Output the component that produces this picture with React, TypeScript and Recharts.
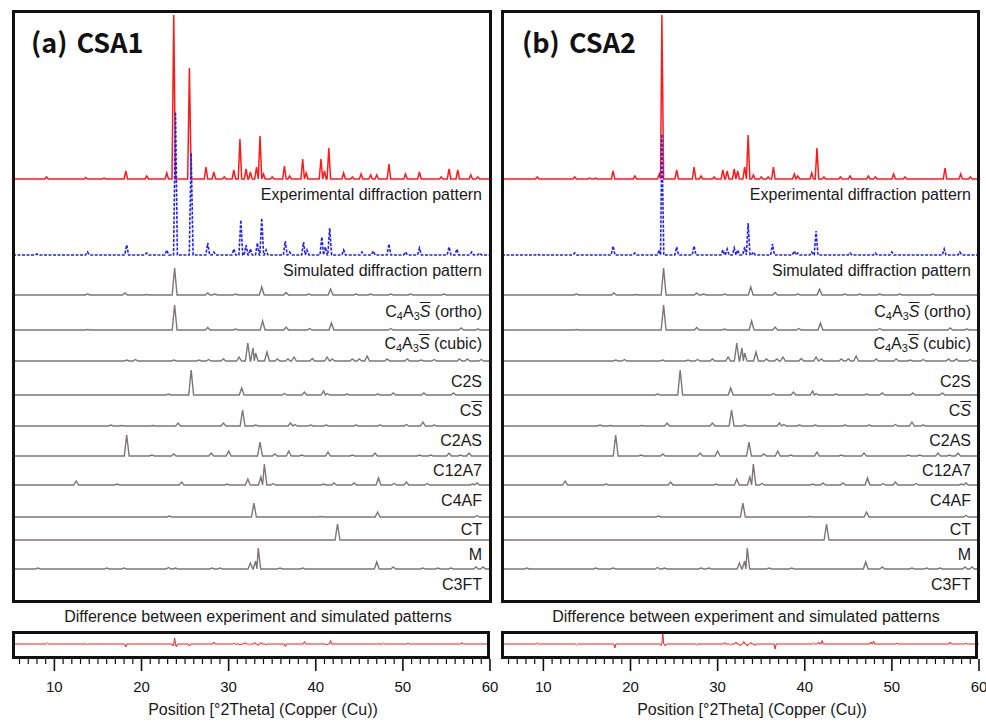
import React from "react";
import { LineChart, Line, XAxis, YAxis } from "recharts";

type Peak = [number, number]; // [position °2θ, intensity]

const X_MIN = 5.25;
const X_MAX = 60;
const MAJOR_TICKS = [10, 20, 30, 40, 50, 60];
const X_TICKS = Array.from({ length: 55 }, (_, i) => 6 + i);

// measured patterns
const CSA1_EXP: Peak[] = [
  [9.1, 2], [13.6, 1.5], [15.7, 1], [18.2, 8], [20.6, 3], [22.9, 6], [23.7, 164], [25.5, 111],
  [27.4, 12], [28.3, 7], [29.5, 2], [30.6, 9], [31.3, 40], [32.0, 10], [32.5, 7], [33.2, 12],
  [33.6, 43], [34.0, 5], [35.0, 2], [36.4, 13], [37.0, 3], [38.5, 20], [38.9, 6], [40.6, 20],
  [41.0, 8], [41.5, 31], [43.2, 6], [44.2, 2], [45.2, 5], [46.3, 4], [47.0, 4], [48.4, 15],
  [50.3, 5], [51.9, 7], [54.4, 2], [55.3, 10], [56.3, 9], [57.8, 4], [58.6, 2],
];
const CSA1_SIM: Peak[] = [
  [8.0, 1], [13.8, 3], [18.3, 10], [20.6, 2], [22.9, 5], [23.9, 143], [25.7, 102], [27.6, 12],
  [28.3, 3], [30.6, 6], [31.4, 35], [32.0, 10], [32.5, 6], [33.3, 12], [33.8, 37], [34.3, 5],
  [36.5, 14], [37.0, 3], [38.6, 13], [39.0, 5], [40.7, 18], [41.1, 8], [41.6, 27], [43.2, 5],
  [45.3, 3], [46.6, 4], [48.4, 11], [50.3, 3], [51.9, 7], [55.3, 8], [56.2, 6], [57.9, 3], [58.8, 2],
];
const CSA1_DIFF: Peak[] = [
  [9.2, 1], [13.8, -0.5], [18.2, -3], [23.6, -2], [23.8, 6], [24.0, -3], [25.5, -2], [28.3, 2],
  [30.6, 1], [31.3, -1], [31.9, 1.5], [32.4, -1], [33.0, 1.5], [33.4, -1.5], [33.7, 1.5], [34.3, -1],
  [36.5, -2.5], [38.7, 2.5], [41.3, -1], [41.7, 3.5], [47.8, 1], [50.6, 1], [56.8, 1.5],
];

const CSA2_EXP: Peak[] = [
  [9.3, 2], [13.6, 2], [15.3, 1], [16.0, 1], [18.0, 8], [20.5, 3], [23.3, 5], [23.6, 164],
  [25.3, 9], [27.3, 12], [28.1, 3], [29.6, 2], [30.6, 9], [31.1, 8], [31.9, 10], [32.3, 8],
  [33.1, 12], [33.5, 44], [34.1, 4], [35.0, 2], [35.8, 2], [36.4, 12], [38.8, 5], [39.2, 3],
  [40.8, 6], [41.4, 31], [42.2, 2], [44.1, 2], [45.2, 3], [47.3, 3], [48.1, 2], [50.2, 5],
  [51.5, 2], [56.1, 11], [57.9, 5], [59.0, 2],
];
const CSA2_SIM: Peak[] = [
  [9.3, 1], [13.6, 2], [18.0, 9], [20.5, 2], [23.3, 5], [23.6, 121], [25.3, 8], [27.3, 9],
  [30.6, 5], [31.1, 6], [31.9, 7], [32.3, 5], [33.1, 8], [33.5, 32], [34.1, 3], [36.3, 11],
  [38.8, 4], [39.2, 2], [40.8, 3], [41.3, 24], [45.2, 2], [48.1, 2], [50.0, 3], [56.0, 6], [57.8, 3],
];
const CSA2_DIFF: Peak[] = [
  [9.3, 1], [13.8, -1], [18.2, -4], [23.5, -1.5], [23.7, 11], [24.0, -2], [27.6, -1], [30.8, 1.5],
  [31.5, -1], [32.1, 2], [32.6, -1.5], [33.0, 2.5], [33.4, -2], [33.8, 1.5], [34.3, -1.5],
  [36.6, -5], [41.0, 1], [41.6, 2], [42.0, 3.5], [47.6, 2], [47.9, 3], [50.6, 1], [56.7, 2], [58.5, 1],
];

// reference phase patterns (identical for both cements)
const ORTHO: Peak[] = [
  [13.8, 1], [18.1, 2], [20.6, 0.5], [23.8, 27], [27.6, 2], [28.4, 1], [30.8, 1], [33.8, 8],
  [36.6, 2.5], [39.2, 1], [41.7, 6], [44.6, 1], [46.3, 1], [48.6, 1], [50.9, 1], [54.7, 1],
];
const CUBIC: Peak[] = [
  [13.8, 0.5], [23.8, 25], [27.6, 2.5], [30.8, 1], [33.9, 9], [36.6, 3], [39.3, 1.5], [41.8, 7],
  [48.6, 1.5], [56.7, 2], [58.6, 1],
];
const C2S: Peak[] = [
  [18.3, 1], [19.3, 1.5], [23.7, 1], [26.6, 1], [27.7, 1.5], [29.4, 2], [31.2, 4], [32.2, 18],
  [32.8, 13], [33.1, 8], [34.4, 9], [35.6, 2], [36.8, 2], [37.5, 4], [39.6, 2.5], [41.3, 4],
  [41.9, 2], [44.2, 2], [45.0, 2], [45.9, 5], [48.2, 2], [50.5, 2], [52.1, 1], [53.6, 1.5],
  [56.5, 2], [57.4, 2], [59.0, 1.5],
];
const CS: Peak[] = [
  [23.1, 1], [25.7, 25], [31.5, 7], [36.4, 1.5], [38.7, 3], [40.9, 4], [41.3, 1.5], [43.6, 1],
  [47.1, 1], [48.9, 2], [52.4, 2], [55.8, 2],
];
const C2AS: Peak[] = [
  [16.5, 1], [17.7, 0.5], [21.3, 0.5], [24.2, 3], [29.4, 3], [31.6, 16], [33.1, 1], [37.1, 3],
  [37.6, 1.5], [39.4, 1], [41.2, 1], [44.6, 1], [47.4, 1], [50.4, 1.5], [52.3, 4], [53.6, 1],
];
const C12A7: Peak[] = [
  [18.3, 21], [21.2, 1], [23.7, 2], [28.0, 3], [30.0, 5], [33.6, 14], [35.3, 2], [36.9, 5],
  [38.4, 1], [41.4, 4], [44.2, 1], [46.8, 3], [51.9, 1], [53.2, 1], [55.3, 3], [56.6, 1], [57.6, 3],
];
const C4AF: Peak[] = [
  [12.5, 4], [17.2, 1], [24.6, 3], [29.8, 1], [32.2, 6], [33.7, 8], [34.1, 21], [35.1, 1.5],
  [40.9, 1], [42.1, 2], [44.4, 2], [47.2, 7], [49.0, 1.5], [50.4, 3], [52.8, 1.5], [58.0, 1], [58.5, 2],
];
const CT: Peak[] = [[23.2, 1], [32.9, 14], [40.5, 0.5], [47.1, 5], [58.5, 1.5]];
const M: Peak[] = [[42.5, 16]];
const C3FT: Peak[] = [
  [8.1, 1], [16.0, 1], [18.0, 1], [23.1, 1.5], [23.9, 1], [28.1, 1], [29.0, 1], [32.5, 6],
  [33.1, 8], [33.4, 21], [35.9, 1], [38.5, 1], [47.0, 7], [48.9, 2], [52.3, 1], [54.0, 1],
  [55.5, 1], [58.4, 2], [59.2, 2],
];

const PHASES = [ORTHO, CUBIC, C2S, CS, C2AS, C12A7, C4AF, CT, M, C3FT];

// stacking: baseline of each trace in chart units, top to bottom
const TRACE_OFFSETS = [422, 346, 306, 271, 240, 206, 175, 145, 116, 84, 61, 32];
const LABEL_Y = [195, 271, 312, 344, 382, 411, 441, 471, 501, 530, 555, 585];

const RED = "#ff1a1a";
const BLUE = "#1f1fff";
const GRAY = "#7e7676";
const LABEL_FONT = '"Liberation Sans", Arial, sans-serif';
const TITLE_FONT = '"Noto Sans CJK KR", "Noto Sans", sans-serif';

const Sub = ({ children }: { children: React.ReactNode }) => (
  <span style={{ fontSize: 11, position: "relative", top: 3 }}>{children}</span>
);
const SBar = () => <span style={{ fontStyle: "italic", textDecoration: "overline" }}>S</span>;

const TRACE_LABELS: React.ReactNode[] = [
  "Experimental diffraction pattern",
  "Simulated diffraction pattern",
  <>C<Sub>4</Sub>A<Sub>3</Sub><SBar /> (ortho)</>,
  <>C<Sub>4</Sub>A<Sub>3</Sub><SBar /> (cubic)</>,
  "C2S",
  <>C<SBar /></>,
  "C2AS",
  "C12A7",
  "C4AF",
  "CT",
  "M",
  "C3FT",
];

// turn a peak list into a stick-profile polyline sitting on a baseline
function toProfile(peaks: Peak[], halfWidth: number, offset: number) {
  const pts = [{ x: X_MIN, y: offset }];
  peaks.forEach(([pos, h], i) => {
    const prev = i > 0 ? peaks[i - 1][0] : X_MIN;
    const next = i < peaks.length - 1 ? peaks[i + 1][0] : X_MAX;
    pts.push({ x: Math.max(pos - halfWidth, (prev + pos) / 2), y: offset });
    pts.push({ x: pos, y: offset + h });
    pts.push({ x: Math.min(pos + halfWidth, (pos + next) / 2), y: offset });
  });
  pts.push({ x: X_MAX, y: offset });
  return pts;
}

const renderTick = (props: any) => {
  const { x, y, payload } = props;
  const major = MAJOR_TICKS.includes(payload.value);
  return (
    <g>
      <line x1={x} x2={x} y1={y} y2={y + (major ? 12 : 5)} stroke="#111" strokeWidth={major ? 1.6 : 1.2} />
      {major && (
        <text x={x} y={y + 33} textAnchor="middle" fontSize={15} fontFamily={LABEL_FONT} fill="#111">
          {payload.value}
        </text>
      )}
    </g>
  );
};

const PANELS = [
  {
    title: "(a) CSA1", exp: CSA1_EXP, sim: CSA1_SIM, diff: CSA1_DIFF,
    chartX: 13, boxX: 12, boxW: 480, labelRight: 482, titleX: 31, captionX: 258, axisTitleX: 263,
  },
  {
    title: "(b) CSA2", exp: CSA2_EXP, sim: CSA2_SIM, diff: CSA2_DIFF,
    chartX: 502, boxX: 501, boxW: 479, labelRight: 971, titleX: 522, captionX: 746, axisTitleX: 752,
  },
];

const CHART_W = 477;
const MAIN_H = 590;
const TICK_PAD = 12; // room for the last tick label past the plot edge

function Panel({ p }: { p: (typeof PANELS)[number] }) {
  const abs = { position: "absolute" as const };
  const centred = (cx: number, cy: number) => ({
    ...abs, left: cx - 250, width: 500, top: cy - 10, height: 20, lineHeight: "20px",
    textAlign: "center" as const, fontSize: 16, fontFamily: LABEL_FONT, color: "#1a1a1a", whiteSpace: "nowrap" as const,
  });

  return (
    <>
      <div style={{ ...abs, left: p.chartX, top: 11 }}>
        <LineChart width={CHART_W} height={MAIN_H} margin={{ top: 0, right: 0, bottom: 0, left: 0 }}>
          <XAxis type="number" dataKey="x" domain={[X_MIN, X_MAX]} hide allowDataOverflow />
          <YAxis type="number" domain={[0, MAIN_H]} hide allowDataOverflow />
          {PHASES.map((peaks, i) => (
            <Line key={i} data={toProfile(peaks, 0.28, TRACE_OFFSETS[i + 2])} dataKey="y" type="linear"
              stroke={GRAY} strokeWidth={1.4} dot={false} isAnimationActive={false} />
          ))}
          <Line data={toProfile(p.exp, 0.2, TRACE_OFFSETS[0])} dataKey="y" type="linear"
            stroke={RED} strokeWidth={1.5} dot={false} isAnimationActive={false} />
          <Line data={toProfile(p.sim, 0.22, TRACE_OFFSETS[1])} dataKey="y" type="linear"
            stroke={BLUE} strokeWidth={1.6} strokeDasharray="3 1.5" dot={false} isAnimationActive={false} />
        </LineChart>
      </div>
      <div style={{ ...abs, left: p.boxX, top: 10, width: p.boxW, height: 593, border: "3px solid #111", boxSizing: "border-box" }} />

      <div style={{ ...abs, left: p.titleX, top: 28, fontFamily: TITLE_FONT, fontWeight: 700, fontSize: 27, lineHeight: "27px", whiteSpace: "pre", wordSpacing: 3, color: "#111" }}>
        {p.title}
      </div>

      {TRACE_LABELS.map((label, i) => (
        <div key={i} style={{ ...abs, right: 986 - p.labelRight, top: LABEL_Y[i] - 10, height: 20, lineHeight: "20px", fontSize: 16, fontFamily: LABEL_FONT, color: "#1a1a1a", whiteSpace: "nowrap" }}>
          {label}
        </div>
      ))}

      <div style={centred(p.captionX, 617)}>Difference between experiment and simulated patterns</div>

      <div style={{ ...abs, left: p.chartX, top: 631 }}>
        <LineChart width={CHART_W + TICK_PAD} height={91} margin={{ top: 0, right: TICK_PAD, bottom: 0, left: 0 }}>
          <XAxis type="number" dataKey="x" domain={[X_MIN, X_MAX]} ticks={X_TICKS} interval={0}
            tick={renderTick} tickLine={false} axisLine={false} tickSize={0} tickMargin={0} height={63} allowDataOverflow />
          <YAxis type="number" domain={[-15, 13]} hide allowDataOverflow />
          <Line data={toProfile(p.diff, 0.12, 0)} dataKey="y" type="linear"
            stroke={RED} strokeWidth={1} dot={false} isAnimationActive={false} />
        </LineChart>
      </div>
      <div style={{ ...abs, left: p.boxX, top: 631, width: p.boxW - 2, height: 28, border: "3px solid #111", boxSizing: "border-box" }} />

      <div style={centred(p.axisTitleX, 710)}>Position [°2Theta] (Copper (Cu))</div>
    </>
  );
}

export default function App() {
  return (
    <div style={{ position: "absolute", left: 0, top: 0, width: 986, height: 722, background: "#fff", overflow: "hidden" }}>
      {PANELS.map((p) => (
        <Panel key={p.title} p={p} />
      ))}
    </div>
  );
}
